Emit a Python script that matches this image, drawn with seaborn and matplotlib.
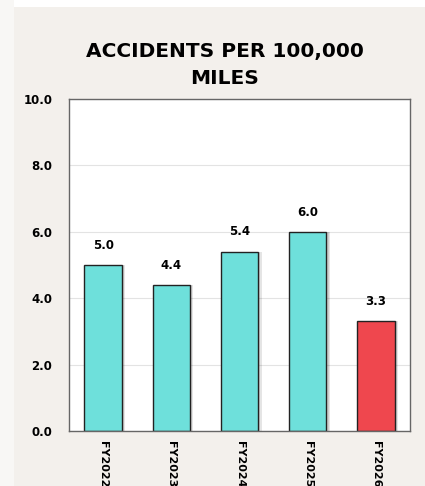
import matplotlib
matplotlib.use("Agg")
import matplotlib.pyplot as plt
import seaborn as sns
import pandas as pd
from matplotlib.patches import Rectangle

categories = ["FY2022", "FY2023", "FY2024", "FY2025", "FY2026"]
values = [5.0, 4.4, 5.4, 6.0, 3.3]
bar_colors = ["#6ee0db", "#6ee0db", "#6ee0db", "#6ee0db", "#ef474e"]
yticks = [0.0, 2.0, 4.0, 6.0, 8.0, 10.0]
title = "ACCIDENTS PER 100,000\nMILES"

sns.set_style("white")
plt.rcParams['font.family'] = ['DejaVu Sans']

df = pd.DataFrame({"cat": categories, "val": values})

fig = plt.figure(figsize=(4.25, 4.86), dpi=100, facecolor="#f3f0ec")
fig.patches.append(Rectangle((0, 1 - 7/486), 1, 7/486, transform=fig.transFigure,
                             facecolor="white", edgecolor="none", zorder=0))
fig.patches.append(Rectangle((0, 0), 14/425, 1, transform=fig.transFigure,
                             facecolor="#f8f7f5", edgecolor="none", zorder=0))

ax = fig.add_axes([69/425, 1 - 431/486, (410-69)/425, (431-99)/486])
ax.set_facecolor("white")

for i, v in enumerate(values):
    ax.bar(i + 0.05, v, width=0.55, color="#000000", alpha=0.10, zorder=1, linewidth=0)
    ax.bar(i + 0.03, v, width=0.55, color="#000000", alpha=0.10, zorder=1, linewidth=0)

sns.barplot(data=df, x="cat", y="val", hue="cat", palette=bar_colors, legend=False,
            width=0.55, saturation=1, edgecolor="#222222", linewidth=1.0, ax=ax, zorder=2)

for i, v in enumerate(values):
    ax.text(i, v + 0.4, f"{v:.1f}", ha="center", va="bottom", fontsize=8.5,
            fontweight="bold", color="#000000")

ax.set_ylim(0, 10)
ax.set_xlim(-0.5, len(categories) - 0.5)
ax.set_yticks(yticks)
ax.set_yticklabels([f"{t:.1f}" for t in yticks], fontsize=8.5, fontweight="bold")
ax.set_xticks(range(len(categories)))
ax.set_xticklabels(categories, rotation=270, fontsize=8, fontweight="bold")
ax.tick_params(axis="y", length=0, pad=12, labelcolor="#000000")
ax.tick_params(axis="x", length=0, pad=7, labelcolor="#000000")
ax.yaxis.grid(True, color="#e3e3e3", linewidth=0.8)
ax.set_axisbelow(True)
for s in ax.spines.values():
    s.set_color("#666666")
    s.set_linewidth(1.0)
ax.set_xlabel("")
ax.set_ylabel("")

fig.text(225/425, 1 - 65/486, title, ha="center", va="center", fontsize=14.5,
         fontweight="bold", color="#000000", linespacing=1.6)

fig.savefig("out.png", dpi=100, facecolor=fig.get_facecolor())
